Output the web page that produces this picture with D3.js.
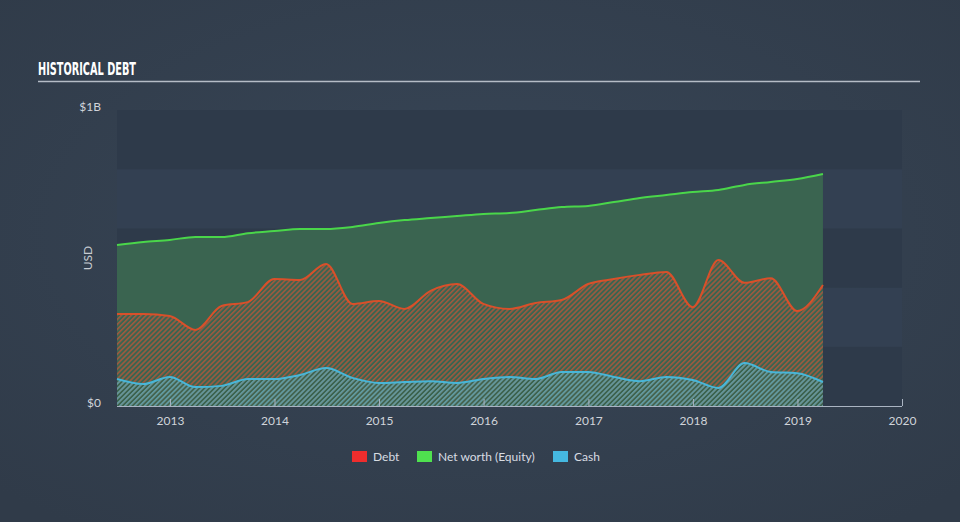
<!DOCTYPE html>
<html>
<head>
<meta charset="utf-8">
<script src="https://cdn.jsdelivr.net/npm/d3@7"></script>
<style>
  html, body { margin: 0; padding: 0; background: #344150; }
  svg { display: block; }
</style>
</head>
<body>
<svg id="chart" width="960" height="522"></svg>
<script>
// ---- Data (quarterly, USD millions) ----
const dates = [
  "2012-06-30","2012-09-30","2012-12-31","2013-03-31","2013-06-30","2013-09-30","2013-12-31",
  "2014-03-31","2014-06-30","2014-09-30","2014-12-31","2015-03-31","2015-06-30","2015-09-30",
  "2015-12-31","2016-03-31","2016-06-30","2016-09-30","2016-12-31","2017-03-31","2017-06-30",
  "2017-09-30","2017-12-31","2018-03-31","2018-06-30","2018-09-30","2018-12-31","2019-03-31"
];
const debt = [311,311,304,257,338,351,429,426,480,345,355,328,389,412,345,328,348,358,412,429,443,453,334,493,416,432,321,409];
const equity = [544,554,561,571,571,584,591,598,598,605,618,628,635,642,649,652,662,672,676,689,703,713,723,730,747,757,767,784];
const cash = [91,74,98,64,68,91,91,105,128,95,78,81,84,78,91,98,91,115,115,98,84,98,88,61,145,115,111,81];
const yearTicks = [2013,2014,2015,2016,2017,2018,2019,2020];
const yTickLabels = ["$0","$1B"];
const legendItems = ["Debt","Net worth (Equity)","Cash"];

const W = 960, H = 522;
const plot = {left: 117, right: 902, top: 110, bottom: 406};
const parse = d3.timeParse("%Y-%m-%d");
const dts = dates.map(parse);

const svg = d3.select("#chart");
const defs = svg.append("defs");

// background gradient
const bg = defs.append("radialGradient").attr("id","bg").attr("cx","50%").attr("cy","45%").attr("r","70%");
bg.append("stop").attr("offset","0%").attr("stop-color","#384657");
bg.append("stop").attr("offset","100%").attr("stop-color","#303b49");
svg.append("rect").attr("width",W).attr("height",H).attr("fill","url(#bg)");

// hatch patterns
function hatch(id, stroke, w) {
  const p = defs.append("pattern").attr("id", id).attr("patternUnits","userSpaceOnUse")
    .attr("width",3.5).attr("height",3.5).attr("patternTransform","rotate(45)");
  p.append("rect").attr("x",0).attr("y",0).attr("width",w).attr("height",3.5).attr("fill",stroke);
}
hatch("hRed", "#9c5a40", 1.6);
hatch("hCash", "#5a9ea6", 1.6);

const x = d3.scaleTime()
  .domain([parse("2012-06-30"), new Date(2020,0,1)])
  .range([plot.left, plot.right]);
const y = d3.scaleLinear().domain([0,1000]).range([plot.bottom, plot.top]);

// bands
const bandVals = d3.range(0,1000,200);
svg.append("g").selectAll("rect").data(bandVals).join("rect")
  .attr("x", plot.left).attr("width", plot.right - plot.left)
  .attr("y", d => y(d+200)).attr("height", d => y(d) - y(d+200))
  .attr("fill", (d,i) => i % 2 === 0 ? "#2e3a4a" : "#334052");

const idx = d3.range(dates.length);
const curve = d3.curveMonotoneX;
const area = arr => d3.area().curve(curve).x(i => x(dts[i])).y0(y(0)).y1(i => y(arr[i]));
const line = arr => d3.line().curve(curve).x(i => x(dts[i])).y(i => y(arr[i]));

// equity area
svg.append("path").datum(idx).attr("d", area(equity)).attr("fill", "#3a6450");
// debt hatched area
svg.append("path").datum(idx).attr("d", area(debt)).attr("fill", "url(#hRed)");
// cash hatched area
svg.append("path").datum(idx).attr("d", area(cash)).attr("fill", "url(#hCash)");

// lines
svg.append("path").datum(idx).attr("d", line(equity)).attr("fill","none").attr("stroke","#4ad64a").attr("stroke-width",2);
svg.append("path").datum(idx).attr("d", line(debt)).attr("fill","none").attr("stroke","#d9502a").attr("stroke-width",2);
svg.append("path").datum(idx).attr("d", line(cash)).attr("fill","none").attr("stroke","#48b6d8").attr("stroke-width",2);

// x axis
const xAxis = d3.axisBottom(x)
  .tickValues(yearTicks.map(yr => new Date(yr,0,1)))
  .tickFormat(d3.timeFormat("%Y"))
  .tickSize(7).tickSizeOuter(0);
const gx = svg.append("g").attr("transform", `translate(0,${plot.bottom})`).call(xAxis);
gx.select(".domain").attr("stroke","#aab4c2").attr("d", `M${plot.left},0.5H${plot.right}`);
gx.selectAll(".tick line").attr("stroke","#aab4c2").attr("y2",-7).attr("y1",0);
gx.selectAll(".tick text").attr("fill","#d0d4da").attr("font-size",12)
  .attr("font-family","Lato, 'Open Sans', sans-serif").attr("dy","0.3em").attr("y",15);

// y labels
svg.append("g").selectAll("text").data([0,1000]).join("text")
  .attr("x", 101).attr("y", d => y(d)).attr("dy", d => d === 0 ? "0.1em" : "0.05em")
  .attr("text-anchor","end").attr("fill","#d0d4da").attr("font-size",12)
  .attr("font-family","Lato, 'Open Sans', sans-serif")
  .text((d,i) => yTickLabels[i]);

svg.append("text").attr("transform","translate(92,258) rotate(-90)")
  .attr("text-anchor","middle").attr("fill","#c8ccd2").attr("font-size",12)
  .attr("font-family","Lato, 'Open Sans', sans-serif").text("USD");

// title
svg.append("text").attr("x",38).attr("y",75).attr("fill","#ffffff")
  .attr("font-family","'DejaVu Sans Condensed','Liberation Sans Narrow',sans-serif")
  .attr("font-weight","bold").attr("font-size",18)
  .attr("textLength",98).attr("lengthAdjust","spacingAndGlyphs")
  .text("HISTORICAL DEBT");
svg.append("line").attr("x1",38).attr("x2",920).attr("y1",81.5).attr("y2",81.5)
  .attr("stroke","#b5bcc6").attr("stroke-width",1.5);

// legend
const legColors = ["#ee2d2d","#4fe14f","#45b8e0"];
const legX = [352, 417, 553];
const lg = svg.append("g");
legendItems.forEach((t,i) => {
  lg.append("rect").attr("x",legX[i]).attr("y",451).attr("width",15).attr("height",11).attr("fill",legColors[i]);
  lg.append("text").attr("x",legX[i]+21).attr("y",461).attr("fill","#d8dce2").attr("font-size",12)
    .attr("font-family","Lato, 'Open Sans', sans-serif").text(t);
});
</script>
</body>
</html>
